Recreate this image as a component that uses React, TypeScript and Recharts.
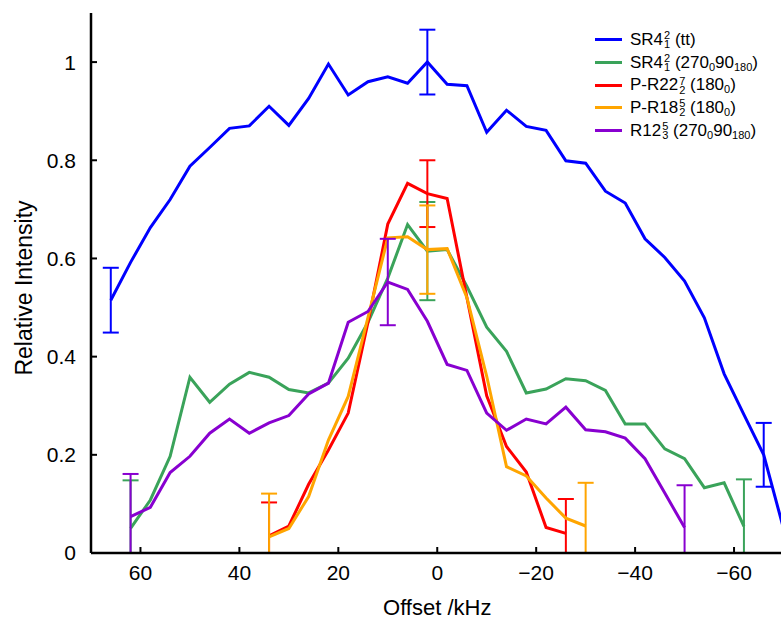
import React from "react";
import { LineChart, Line, XAxis, YAxis, ErrorBar } from "recharts";

// x positions (kHz) and relative intensities
const blueOffsets = [66, 62, 58, 54, 50, 46, 42, 38, 34, 30, 26, 22, 18, 14, 10, 6, 2, -2, -6, -10, -14, -18, -22, -26, -30, -34, -38, -42, -46, -50, -54, -58, -62, -66, -70];
const blueValues = [0.515, 0.592, 0.663, 0.72, 0.788, 0.826, 0.865, 0.87, 0.91, 0.871, 0.926, 0.996, 0.933, 0.96, 0.97, 0.957, 1.0, 0.955, 0.952, 0.857, 0.902, 0.869, 0.861, 0.799, 0.794, 0.737, 0.713, 0.64, 0.602, 0.554, 0.479, 0.365, 0.282, 0.2, 0.05];
const blueErrors = [[66, 0.066], [2, 0.066], [-66, 0.065]];

const greenOffsets = [62, 58, 54, 50, 46, 42, 38, 34, 30, 26, 22, 18, 14, 10, 6, 2, -2, -6, -10, -14, -18, -22, -26, -30, -34, -38, -42, -46, -50, -54, -58, -62];
const greenValues = [0.05, 0.108, 0.197, 0.358, 0.307, 0.344, 0.368, 0.358, 0.333, 0.326, 0.346, 0.397, 0.47, 0.56, 0.669, 0.615, 0.618, 0.543, 0.46, 0.411, 0.326, 0.334, 0.355, 0.351, 0.331, 0.263, 0.263, 0.212, 0.192, 0.133, 0.143, 0.054];
const greenErrors = [[62, 0.098], [2, 0.1], [-62, 0.096]];

const redOffsets = [34, 30, 26, 22, 18, 14, 10, 6, 2, -2, -6, -10, -14, -18, -22, -26];
const redValues = [0.035, 0.055, 0.14, 0.21, 0.285, 0.47, 0.67, 0.753, 0.732, 0.722, 0.52, 0.32, 0.217, 0.165, 0.052, 0.04];
const redErrors = [[34, 0.068], [2, 0.068], [-26, 0.07]];

const orangeOffsets = [34, 30, 26, 22, 18, 14, 10, 6, 2, -2, -6, -10, -14, -18, -22, -26, -30];
const orangeValues = [0.033, 0.05, 0.115, 0.23, 0.319, 0.48, 0.642, 0.644, 0.618, 0.62, 0.52, 0.36, 0.176, 0.157, 0.112, 0.071, 0.055];
const orangeErrors = [[34, 0.088], [2, 0.09], [-30, 0.088]];

const purpleOffsets = [62, 58, 54, 50, 46, 42, 38, 34, 30, 26, 22, 18, 14, 10, 6, 2, -2, -6, -10, -14, -18, -22, -26, -30, -34, -38, -42, -46, -50];
const purpleValues = [0.074, 0.093, 0.164, 0.197, 0.244, 0.273, 0.244, 0.265, 0.28, 0.324, 0.346, 0.47, 0.492, 0.552, 0.537, 0.472, 0.384, 0.372, 0.285, 0.25, 0.273, 0.263, 0.297, 0.251, 0.247, 0.234, 0.192, 0.122, 0.052];
const purpleErrors = [[62, 0.087], [10, 0.088], [-50, 0.086]];

const xTicks = [60, 40, 20, 0, -20, -40, -60];
const yTicks = [0, 0.2, 0.4, 0.6, 0.8, 1];

// error bars stop at the x axis, as in the figure
const toPoints = (offsets: number[], values: number[], errors: number[][]) =>
	offsets.map((x, i) => {
		const hit = errors.find((e) => e[0] === x);
		const v = values[i];
		return { x, v, e: hit ? [Math.min(hit[1], v), hit[1]] : undefined };
	});

const Stack = ({ sup, sub }: { sup: string; sub: string }) => (
	<span
		style={{
			display: "inline-flex",
			flexDirection: "column",
			fontSize: 11,
			lineHeight: "9px",
			verticalAlign: "middle",
			marginLeft: 1,
		}}
	>
		<span>{sup}</span>
		<span>{sub}</span>
	</span>
);

const Sub = ({ children }: { children: string }) => (
	<span style={{ fontSize: 11, verticalAlign: "-3px" }}>{children}</span>
);

const series = [
	{
		key: "blue",
		color: "#0000ff",
		points: toPoints(blueOffsets, blueValues, blueErrors),
		label: (
			<>
				SR4<Stack sup="2" sub="1" /> (tt)
			</>
		),
	},
	{
		key: "green",
		color: "#3aa35a",
		points: toPoints(greenOffsets, greenValues, greenErrors),
		label: (
			<>
				SR4<Stack sup="2" sub="1" /> (270<Sub>0</Sub>90<Sub>180</Sub>)
			</>
		),
	},
	{
		key: "red",
		color: "#ff0000",
		points: toPoints(redOffsets, redValues, redErrors),
		label: (
			<>
				P-R22<Stack sup="7" sub="2" /> (180<Sub>0</Sub>)
			</>
		),
	},
	{
		key: "orange",
		color: "#ffa500",
		points: toPoints(orangeOffsets, orangeValues, orangeErrors),
		label: (
			<>
				P-R18<Stack sup="5" sub="2" /> (180<Sub>0</Sub>)
			</>
		),
	},
	{
		key: "purple",
		color: "#8800d0",
		points: toPoints(purpleOffsets, purpleValues, purpleErrors),
		label: (
			<>
				R12<Stack sup="5" sub="3" /> (270<Sub>0</Sub>90<Sub>180</Sub>)
			</>
		),
	},
];

const formatOffset = (v: number) => (v < 0 ? "\u2212" + Math.abs(v) : String(v));
const blank = () => "";

const font = "'Liberation Sans', Arial, sans-serif";

export default function App() {
	return (
		<div
			style={{
				position: "absolute",
				left: 0,
				top: 0,
				width: 781,
				height: 618,
				overflow: "hidden",
				background: "#fff",
				fontFamily: font,
			}}
		>
			<LineChart
				width={785}
				height={618}
				margin={{ top: 13, right: 1.5, bottom: 25, left: 0 }}
				style={{ fontFamily: font }}
			>
				<XAxis
					xAxisId="b"
					dataKey="x"
					type="number"
					domain={[-70, 70]}
					reversed
					allowDataOverflow
					ticks={xTicks}
					tickFormatter={formatOffset}
					tickSize={-6}
					tickMargin={18}
					height={40}
					stroke="#000"
					axisLine={{ strokeWidth: 2.5 }}
					tickLine={{ strokeWidth: 2 }}
					tick={{ fill: "#000", fontSize: 21 }}
					label={{
						value: "Offset /kHz",
						position: "bottom",
						offset: 6,
						fill: "#000",
						fontSize: 22,
					}}
				/>
				<XAxis
					xAxisId="t"
					orientation="top"
					dataKey="x"
					type="number"
					domain={[-70, 70]}
					reversed
					allowDataOverflow
					ticks={xTicks}
					tickFormatter={blank}
					tickSize={-6}
					height={0}
					stroke="#000"
					axisLine={{ strokeWidth: 2.5 }}
					tickLine={{ strokeWidth: 2 }}
				/>
				<YAxis
					yAxisId="l"
					type="number"
					domain={[0, 1.1]}
					allowDataOverflow
					ticks={yTicks}
					tickSize={-6}
					tickMargin={21}
					width={91}
					stroke="#000"
					axisLine={{ strokeWidth: 2.5 }}
					tickLine={{ strokeWidth: 2 }}
					tick={{ fill: "#000", fontSize: 21 }}
					label={{
						content: () => (
							<text
								x={24}
								y={288}
								transform="rotate(-90 24 288)"
								textAnchor="middle"
								dominantBaseline="central"
								fontSize={23}
								fill="#000"
							>
								Relative Intensity
							</text>
						),
					}}
				/>
				<YAxis
					yAxisId="r"
					orientation="right"
					type="number"
					domain={[0, 1.1]}
					allowDataOverflow
					ticks={yTicks}
					tickFormatter={blank}
					tickSize={-6}
					width={0}
					stroke="#000"
					axisLine={{ strokeWidth: 2.5 }}
					tickLine={{ strokeWidth: 2 }}
				/>
				{series.map((s) => (
					<Line
						key={s.key}
						xAxisId="b"
						yAxisId="l"
						data={s.points}
						dataKey="v"
						type="linear"
						stroke={s.color}
						strokeWidth={3}
						dot={false}
						activeDot={false}
						isAnimationActive={false}
					>
						<ErrorBar
							dataKey="e"
							direction="y"
							width={8}
							stroke={s.color}
							strokeWidth={2}
							isAnimationActive={false}
						/>
					</Line>
				))}
			</LineChart>
			<div style={{ position: "absolute", left: 595, top: 28.5 }}>
				{series.map((s) => (
					<div
						key={s.key}
						style={{ display: "flex", alignItems: "center", height: 22.7 }}
					>
						<span
							style={{
								display: "inline-block",
								width: 27,
								height: 3,
								background: s.color,
								marginRight: 8,
							}}
						/>
						<span style={{ fontSize: 17, whiteSpace: "nowrap", color: "#000" }}>
							{s.label}
						</span>
					</div>
				))}
			</div>
		</div>
	);
}
